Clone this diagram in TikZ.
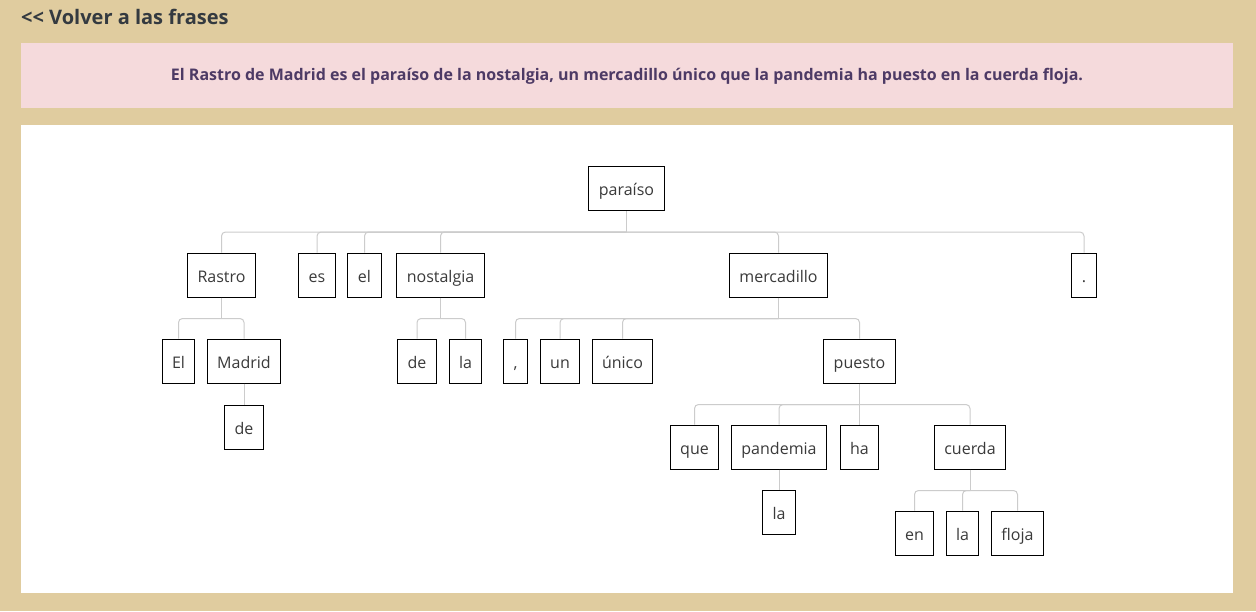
\documentclass[tikz,border=0pt]{standalone}
\usepackage{fontspec}
\setmainfont{Open Sans}
\definecolor{tan}{HTML}{E0CC9F}
\definecolor{pinkbox}{HTML}{F5DADC}
\definecolor{titlegray}{HTML}{343A40}
\definecolor{sentpurple}{HTML}{4D3A65}
\definecolor{wordgray}{HTML}{3A3A3A}
\definecolor{conngray}{HTML}{CCCCCC}
\begin{document}
\begin{tikzpicture}[x=1pt, y=-1pt,
    word/.style={rectangle, draw=black, line width=1pt, fill=white, minimum height=44pt, inner xsep=10pt, text height=16pt, text depth=2pt, text=wordgray, font=\fontsize{16}{19}\selectfont},
    conn/.style={draw=conngray, line width=1pt, rounded corners=4pt}]

    % Page background and panels
    \fill[tan] (0,0) rectangle (1256,611);
    \useasboundingbox (0,0) rectangle (1256,611);
    \fill[pinkbox] (21,43) rectangle (1233,108);
    \fill[white] (21,125) rectangle (1233,593);

    % Header texts
    \node[anchor=base west, inner sep=0pt, text=titlegray, font=\fontsize{20}{23}\bfseries\selectfont] (volver) at (21,24) {{<}{<} Volver a las frases};
    \node[text=sentpurple, font=\fontsize{16}{19}\bfseries\selectfont] (frase) at (627,76) {El Rastro de Madrid es el paraíso de la nostalgia, un mercadillo único que la pandemia ha puesto en la cuerda floja.};

    % Root
    \node[word] (paraiso) at (626.5,188.5) {paraíso};

    % Level 1
    \node[word] (rastro) at (221.5,275) {Rastro};
    \node[word] (es) at (317,275) {es};
    \node[word] (el) at (364.5,275) {el};
    \node[word] (nostalgia) at (440.5,275) {nostalgia};
    \node[word] (mercadillo) at (778.5,275) {mercadillo};
    \node[word] (punto) at (1084,275) {.};

    % Level 2
    \node[word] (elM) at (178.5,361) {El};
    \node[word] (madrid) at (244,361) {Madrid};
    \node[word] (deN) at (417,361) {de};
    \node[word] (laN) at (465.5,361) {la};
    \node[word] (coma) at (515.5,361) {,};
    \node[word] (un) at (560,361) {un};
    \node[word] (unico) at (622.5,361) {único};
    \node[word] (puesto) at (859.5,361) {puesto};

    % Level 3
    \node[word] (deM) at (244,427) {de};
    \node[word] (que) at (694.5,447) {que};
    \node[word] (pandemia) at (779,447) {pandemia};
    \node[word] (ha) at (859.5,447) {ha};
    \node[word] (cuerda) at (970,447) {cuerda};

    % Level 4
    \node[word] (laP) at (779,512.5) {la};
    \node[word] (en) at (914.5,533) {en};
    \node[word] (laC) at (962.5,533) {la};
    \node[word] (floja) at (1017.5,533) {floja};

    % Connectors
    \foreach \p in {paraiso, rastro, nostalgia, mercadillo, puesto, cuerda} {
        \draw[conn] (\p.south) -- ([yshift=-21pt]\p.south);
    }
    \foreach \p/\c in {paraiso/rastro, paraiso/es, paraiso/el, paraiso/nostalgia, paraiso/mercadillo, paraiso/punto,
                       rastro/elM, rastro/madrid, nostalgia/deN, nostalgia/laN,
                       mercadillo/coma, mercadillo/un, mercadillo/unico, mercadillo/puesto,
                       puesto/que, puesto/pandemia, puesto/ha, puesto/cuerda,
                       cuerda/en, cuerda/laC, cuerda/floja} {
        \draw[conn] (\c.north) |- ([yshift=-21pt]\p.south);
    }
    \draw[conn] (madrid) -- (deM);
    \draw[conn] (pandemia) -- (laP);
\end{tikzpicture}
\end{document}
